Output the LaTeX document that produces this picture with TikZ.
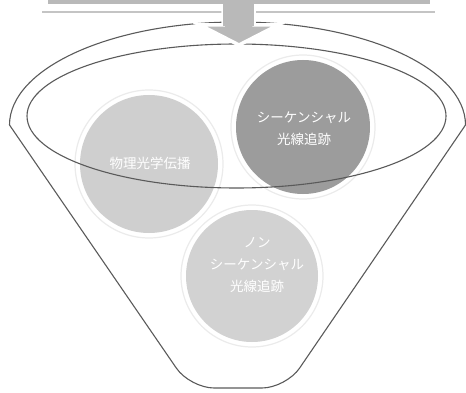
\documentclass[tikz,border=0pt]{standalone}
\usepackage{fontspec}
\newfontfamily\cjk{Noto Sans CJK JP}
\definecolor{linegray}{HTML}{5A5A5A}
\definecolor{bandgray}{HTML}{B9B9B9}
\definecolor{thingray}{HTML}{C4C4C4}
\definecolor{darkc}{HTML}{9C9C9C}
\definecolor{lightc}{HTML}{CFCFCF}
\definecolor{lowc}{HTML}{D2D2D2}
\definecolor{ringedge}{HTML}{EBEBEB}
\tikzset{
  ring/.style={circle, inner sep=0pt, fill=white, draw=ringedge, line width=1.2pt},
  disc/.style={circle, inner sep=0pt},
  lbl/.style={text=white, align=center, inner sep=0pt, font=\cjk\fontsize{13.5}{22}\selectfont},
  outline/.style={draw=linegray, line width=1.1pt},
}
\begin{document}
\begin{tikzpicture}[x=1pt,y=-1pt]
\useasboundingbox (0,0) rectangle (466,393);
% circles with white rings
\node[ring, minimum size=148pt] (lring) at (149,164) {};
\node[disc, fill=lightc, minimum size=138pt] (lc) at (149,164) {};
\node[lbl] (lt) at (150,163) {物理光学伝播};
\node[ring, minimum size=144pt] (rring) at (303,127) {};
\node[disc, fill=darkc, minimum size=134pt] (rc) at (303,127) {};
\node[lbl] (rt) at (304,129) {シーケンシャル\\光線追跡};
\node[ring, minimum size=142pt] (bring) at (252,276) {};
\node[disc, fill=lowc, minimum size=132pt] (bc) at (252,276) {};
\node[lbl] (bt) at (257,265) {ノン\\シーケンシャル\\光線追跡};
% inner rim
\draw[outline] (236.5,116) ellipse[x radius=209.5, y radius=72];
% funnel
\coordinate (fl) at (9.5,125);
\coordinate (fr) at (465.5,125);
\coordinate (bl) at (190,388);
\coordinate (br) at (286,388);
\draw[outline] (fl) arc[start angle=180, end angle=360, x radius=228, y radius=103];
\draw[outline, rounded corners=24pt] (fr) -- (br) -- (bl) -- (fl);
% top band and arrow
\draw[thingray, line width=1.8pt] (42,12) -- (435,12);
\fill[bandgray, draw=white, line width=3.5pt, line join=miter]
  (223,-6) -- (223,25) -- (200,25) -- (239,45) -- (278,25) -- (254,25) -- (254,-6) -- cycle;
\fill[bandgray] (48,0) rectangle (430,4);
\fill[bandgray] (223,0) rectangle (254,26);
\end{tikzpicture}
\end{document}
